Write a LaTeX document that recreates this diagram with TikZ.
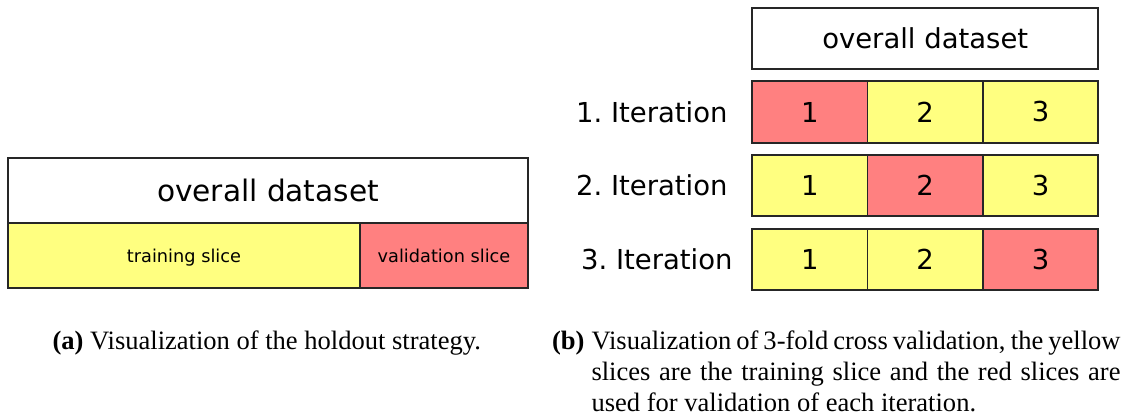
\documentclass[tikz,border=0pt]{standalone}
\usepackage{fontspec}
\setmainfont{Liberation Serif}
\newfontfamily\boxfont{DejaVu Sans}
\usetikzlibrary{positioning}

\definecolor{trainyellow}{RGB}{255,255,128}
\definecolor{validred}{RGB}{255,128,128}
\tikzset{every picture/.style={line width=0.75pt}}
\tikzset{
	slice/.style={draw=black!85, line width=1.4pt, inner sep=0pt, outer sep=0pt, font=\boxfont},
	whole/.style={slice, fill=white},
	train/.style={slice, fill=trainyellow},
	valid/.style={slice, fill=validred},
	smalltext/.style={text height=11pt, text depth=0pt, font=\boxfont\fontsize{13.3}{16}\selectfont},
	cellbox/.style={minimum width=86.55pt, minimum height=46.1pt, font=\boxfont\fontsize{20.6}{24}\selectfont},
	iterlabel/.style={inner sep=0pt, font=\boxfont\frenchspacing\fontsize{20.6}{24}\selectfont},
	caption/.style={inner sep=0pt, font=\fontsize{19.9}{23.25}\selectfont}}

\begin{document}
\begin{tikzpicture}[x=0.75pt,y=0.75pt,yscale=-1,xscale=1]
	\useasboundingbox (0,0) rectangle (1127,417);
	
	% holdout: one dataset, one training and one validation slice
	\node [whole, minimum width=390pt, minimum height=48.75pt, font=\boxfont\fontsize{22.2}{26}\selectfont] (all-a) at (268,190.5) {overall dataset};
	\node [train, smalltext, minimum width=264pt, minimum height=48.75pt] (train-a) at (184,255.5) {training slice};
	\node [valid, smalltext, minimum width=126pt, minimum height=48.75pt] (valid-a) at (444,255.5) {validation slice};
	
	% 3-fold cross validation
	\node [whole, minimum width=259.5pt, minimum height=45.75pt, font=\boxfont\fontsize{20.6}{24}\selectfont] (all-b) at (925.2,38.5) {overall dataset};
	\foreach \r/\y in {1/112,2/185.5,3/259.5}
	\foreach \c/\x in {1/809.8,2/925.2,3/1040.5} {
		\ifnum\r=\c \def\kind{valid}\else\def\kind{train}\fi
		\node [\kind, cellbox] (cell-\r-\c) at (\x,\y) {\c};
	}
	
	% row labels
	\node [iterlabel, left=18pt of cell-1-1] (iter-1) {1. Iteration};
	\node [iterlabel, left=18pt of cell-2-1] (iter-2) {2. Iteration};
	\node [iterlabel, left=14.25pt of cell-3-1] (iter-3) {3. Iteration};
	
	% captions
	\node [caption, anchor=base west] (cap-a) at (52,349) {\textbf{(a)} Visualization of the holdout strategy.};
	\node [caption, anchor=base west, text width=396.75pt, align=justify] (cap-b) at (591,349) {Visualization of 3-fold cross validation, the yellow\linebreak slices are the training slice and the red slices are\linebreak used for validation of each iteration.};
	\node [caption, anchor=base east] (cap-b-tag) at (585,349) {\textbf{(b)}};
	
\end{tikzpicture}
\end{document}
